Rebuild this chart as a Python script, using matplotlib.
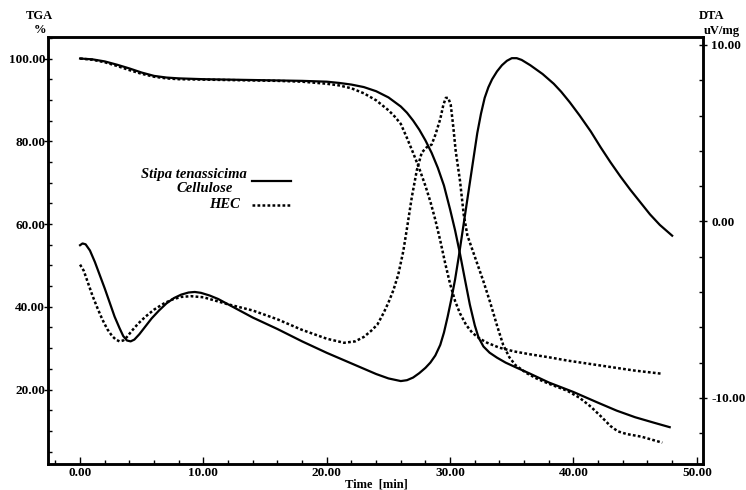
import numpy as np
import matplotlib.pyplot as plt
from matplotlib.lines import Line2D
from matplotlib.ticker import MultipleLocator, FormatStrFormatter

# --- TGA (%), Stipa tenassicima ---
t_tga_st = [0, 1, 2, 3, 4, 5, 6, 7, 8, 10, 12, 14, 16, 18, 20, 21, 22, 23, 24, 25,
            26, 26.5, 27, 27.5, 28, 28.5, 29, 29.5, 30, 30.4, 30.8, 31.2, 31.6, 32.0,
            32.3, 32.7, 33.2, 33.8, 34.5, 35.3, 36.5, 38, 40, 42, 43.5, 45, 46.5, 47.8]
tga_st = [100.0, 99.8, 99.3, 98.5, 97.6, 96.6, 95.8, 95.4, 95.2, 95.0, 94.9, 94.8,
          94.7, 94.6, 94.4, 94.1, 93.7, 93.1, 92.1, 90.6, 88.4, 86.9, 85.0, 82.8,
          80.2, 77.2, 73.6, 69.3, 63.5, 58.5, 52.8, 46.6, 40.5, 35.5, 32.6, 30.4,
          28.9, 27.7, 26.5, 25.4, 23.8, 21.7, 19.4, 16.8, 14.9, 13.3, 12.0, 10.9]

# --- TGA (%), HEC ---
t_tga_hec = [0, 1, 2, 3, 4, 5, 6, 7, 8, 10, 12, 14, 16, 18, 20, 21, 22, 23, 24, 25,
             25.5, 26, 26.5, 27.0, 27.5, 28.0, 28.4, 28.8, 29.2, 29.6, 30.0, 30.4,
             30.8, 31.3, 31.8, 32.4, 33.0, 34.0, 35.2, 36.5, 38, 39.5, 42.2, 44.9, 47.2]
tga_hec = [100.0, 99.7, 99.1, 98.2, 97.2, 96.3, 95.6, 95.2, 95.0, 94.9, 94.8, 94.7,
           94.6, 94.4, 93.9, 93.5, 92.8, 91.6, 89.9, 87.5, 86.0, 84.2, 80.8, 77.2,
           73.4, 69.2, 65.4, 61.0, 56.0, 50.5, 45.5, 41.4, 38.4, 35.6, 33.7, 32.3,
           31.3, 30.1, 29.2, 28.5, 27.8, 27.0, 25.8, 24.6, 23.8]

# --- DTA (uV/mg), Stipa tenassicima ---
t_dta_st = [0, 0.2, 0.45, 0.8, 1.2, 1.6, 2.0, 2.4, 2.8, 3.2, 3.5, 3.8, 4.1, 4.4, 4.8,
            5.3, 5.8, 6.4, 7.0, 7.6, 8.2, 8.8, 9.3, 9.8, 10.5, 11.2, 12, 14, 16, 18,
            20, 22, 24, 25, 26, 26.5, 27.0, 27.5, 28.0, 28.4, 28.8, 29.2, 29.5, 29.8,
            30.1, 30.4, 30.7, 31.0, 31.3, 31.6, 31.9, 32.2, 32.5, 32.8, 33.1, 33.4,
            33.8, 34.2, 34.6, 35.0, 35.4, 35.8, 36.5, 37.5, 38.4, 39.0, 39.7, 40.5,
            41.4, 42.2, 43.0, 43.8, 44.6, 45.4, 46.2, 47.0, 48.0]
dta_st = [-1.35, -1.25, -1.3, -1.65, -2.3, -3.05, -3.8, -4.6, -5.4, -6.05, -6.5,
          -6.75, -6.8, -6.7, -6.4, -5.95, -5.5, -5.05, -4.65, -4.35, -4.15, -4.03,
          -4.0, -4.05, -4.2, -4.4, -4.7, -5.45, -6.1, -6.8, -7.45, -8.05, -8.65,
          -8.9, -9.05, -9.0, -8.85, -8.6, -8.3, -8.0, -7.6, -7.0, -6.3, -5.4, -4.4,
          -3.3, -2.0, -0.6, 0.8, 2.2, 3.6, 5.0, 6.1, 7.0, 7.6, 8.05, 8.5, 8.85, 9.1,
          9.25, 9.25, 9.15, 8.85, 8.35, 7.8, 7.35, 6.75, 6.0, 5.1, 4.2, 3.35, 2.55,
          1.8, 1.1, 0.4, -0.2, -0.81]

# --- DTA (uV/mg), HEC ---
t_dta_hec = [0, 0.3, 0.6, 1.0, 1.4, 1.8, 2.2, 2.6, 2.9, 3.2, 3.5, 3.8, 4.2, 4.7, 5.3,
             6.0, 6.8, 7.5, 8.2, 9.0, 10, 12, 14, 16, 18, 20, 21.4, 22.3, 23.0, 23.6,
             24.1, 24.6, 25.0, 25.4, 25.8, 26.2, 26.5, 26.9, 27.3, 27.7, 28.1, 28.5,
             28.8, 29.2, 29.45, 29.65, 29.85, 30.05, 30.25, 30.45, 30.8, 31.1, 31.4,
             31.8, 32.2, 32.7, 33.25, 33.8, 34.3, 34.8, 35.3, 36.2, 37, 38, 39.5, 40.5,
             41.4, 42.3, 43.0, 43.6, 44.3, 45.5, 46.5, 47.2]
dta_hec = [-2.45, -2.8, -3.4, -4.2, -4.9, -5.55, -6.1, -6.5, -6.7, -6.8, -6.75,
           -6.55, -6.2, -5.8, -5.4, -5.0, -4.65, -4.42, -4.28, -4.24, -4.3, -4.7,
           -5.05, -5.55, -6.15, -6.65, -6.88, -6.8, -6.55, -6.2, -5.85, -5.2, -4.6,
           -3.9, -3.0, -1.7, -0.4, 1.4, 2.9, 3.9, 4.2, 4.35, 4.9, 5.8, 6.6, 7.0, 7.0,
           6.6, 5.4, 4.0, 2.3, 0.4, -0.8, -1.6, -2.4, -3.4, -4.6, -5.9, -7.0, -7.7,
           -8.15, -8.6, -8.9, -9.2, -9.6, -10.0, -10.5, -11.1, -11.6, -11.9, -12.05,
           -12.2, -12.4, -12.54]

W, H = 746, 490
serif = ['Liberation Serif', 'DejaVu Serif']

def px(x, y):
    return x / W, 1 - y / H

fig = plt.figure(figsize=(W / 100, H / 100), dpi=100)
ax = fig.add_axes([48 / W, 1 - 464 / H, (703 - 48) / W, (464 - 37) / H])
ax2 = ax.twinx()

dotted = (0, (1.1, 0.9))
ax.plot(t_tga_st, tga_st, color='black', lw=1.6)
ax.plot(t_tga_hec, tga_hec, color='black', lw=1.8, linestyle=dotted)
ax2.plot(t_dta_st, dta_st, color='black', lw=1.6)
ax2.plot(t_dta_hec, dta_hec, color='black', lw=1.8, linestyle=dotted)

ax.set_xlim(-2.6, 50.5)
ax.set_ylim(2.0, 105.2)
ax2.set_ylim(-13.75, 10.45)

ax.xaxis.set_major_locator(MultipleLocator(10))
ax.xaxis.set_minor_locator(MultipleLocator(2))
ax.yaxis.set_major_locator(MultipleLocator(20))
ax.yaxis.set_minor_locator(MultipleLocator(5))
ax2.yaxis.set_major_locator(MultipleLocator(10))
ax2.yaxis.set_minor_locator(MultipleLocator(2))
for a in (ax.xaxis, ax.yaxis, ax2.yaxis):
    a.set_major_formatter(FormatStrFormatter('%.2f'))

ax.set_yticks([20, 40, 60, 80, 100])
ax2.set_yticks([-10, 0, 10])

ax.tick_params(axis='x', which='major', direction='in', length=5, width=1, pad=2)
ax.tick_params(axis='x', which='minor', direction='in', length=3, width=1)
ax.tick_params(axis='y', which='major', direction='inout', length=6, width=1, pad=-1)
ax.tick_params(axis='y', which='minor', direction='in', length=3, width=1)
ax2.tick_params(axis='y', which='major', direction='inout', length=6, width=1, pad=3)
ax2.tick_params(axis='y', which='minor', direction='in', length=3, width=1)

for a in (ax, ax2):
    for lab in a.get_xticklabels() + a.get_yticklabels():
        lab.set_fontfamily(serif)
        lab.set_fontweight('bold')
        lab.set_fontsize(9.5)
    for s in a.spines.values():
        s.set_linewidth(1.8)

# axis titles
bold = dict(family=serif, weight='bold', fontsize=9, ha='center', va='center')
fig.text(*px(39, 16), 'TGA', **bold)
fig.text(*px(40, 30), '%', **bold)
fig.text(*px(712, 16), 'DTA', **bold)
fig.text(*px(722, 31), 'uV/mg', **bold)
fig.text(*px(376, 484), 'Time  [min]', **bold)

# legend, drawn by hand
leg = dict(family=serif, weight='bold', style='italic', fontsize=10.5, ha='right', va='center')
fig.text(*px(247, 174), 'Stipa tenassicima', **leg)
fig.text(*px(233, 189), 'Cellulose', **leg)
fig.text(*px(240, 204), 'HEC', **leg)
x0, y0 = px(252, 181.5)
x1, _ = px(291, 181.5)
fig.add_artist(Line2D([x0, x1], [y0, y0], transform=fig.transFigure, color='black', lw=1.6))
x0, y0 = px(252, 205)
x1, _ = px(290, 205)
fig.add_artist(Line2D([x0, x1], [y0, y0], transform=fig.transFigure, color='black',
                      lw=1.8, linestyle=dotted))

fig.savefig('out.png', dpi=100)
